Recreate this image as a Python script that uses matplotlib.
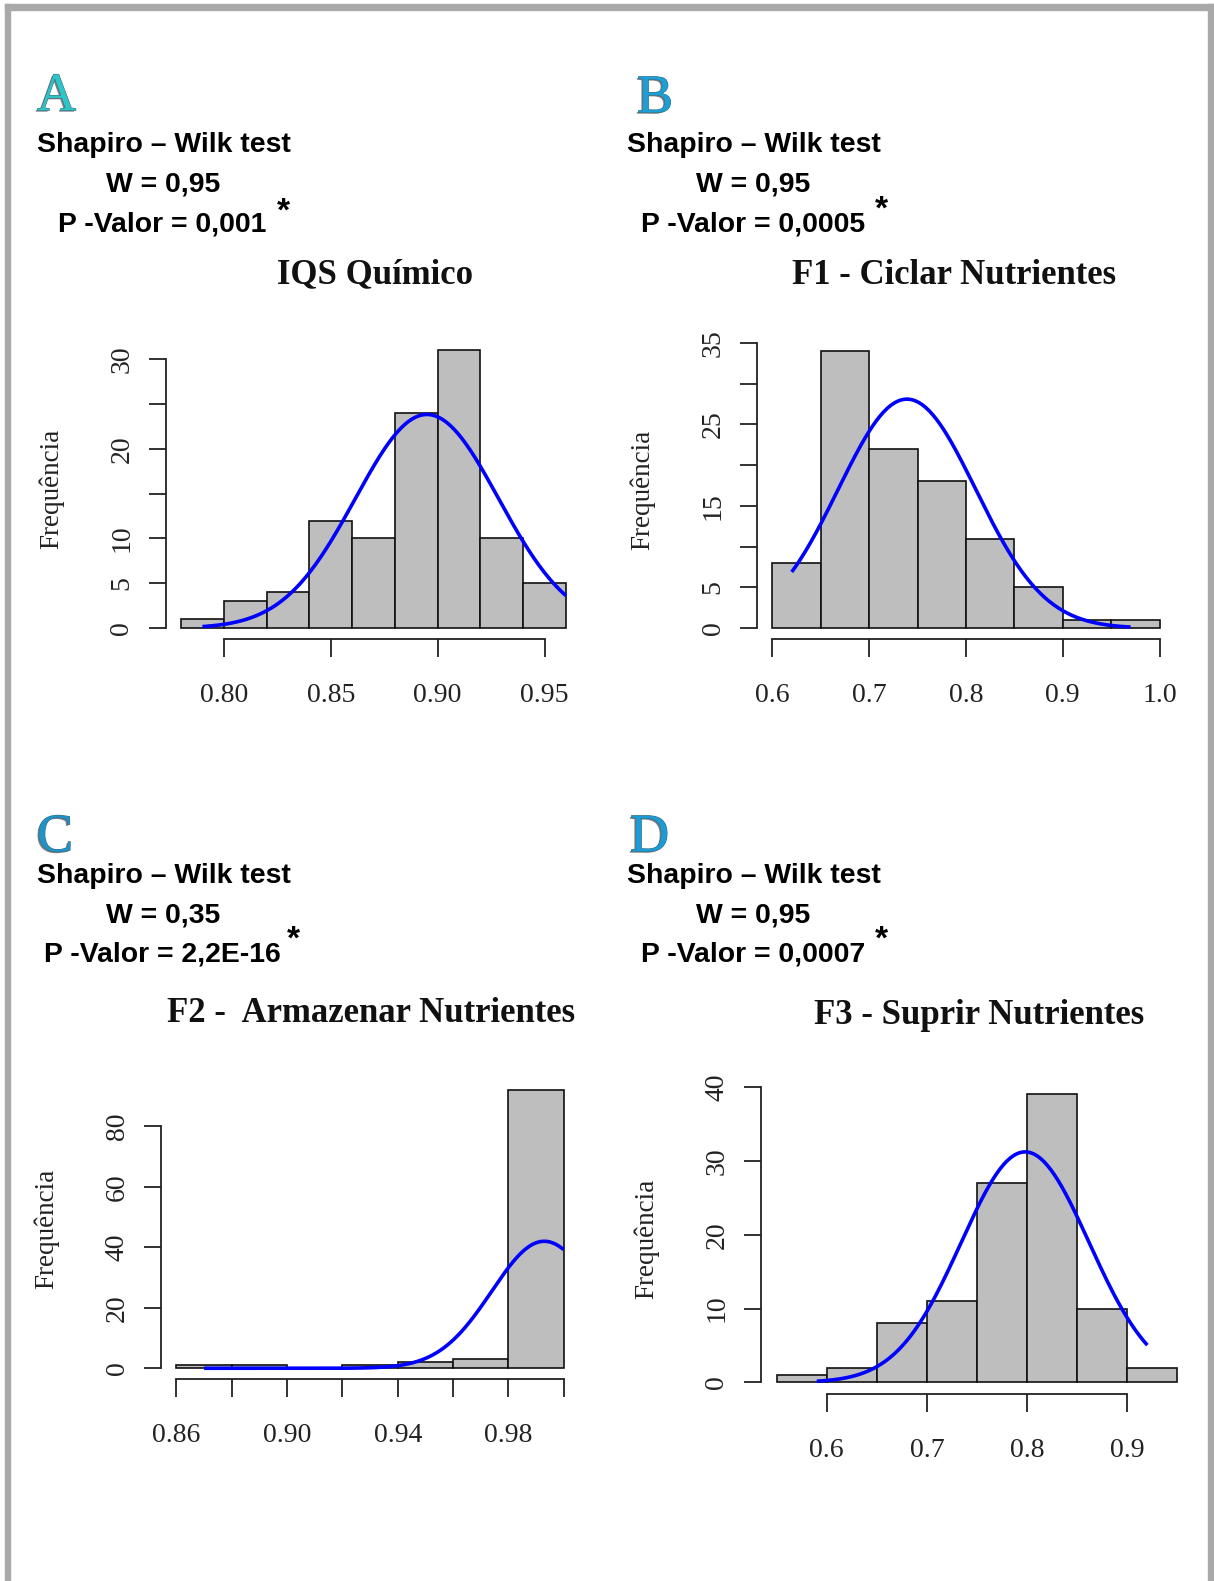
import numpy as np
import matplotlib
matplotlib.use("Agg")
import matplotlib.pyplot as plt
import matplotlib.patheffects as pe
from matplotlib.patches import Rectangle

W, H = 1214, 1581

# ---------------- data ----------------
# Panel A - IQS Químico
a_edges = [0.78, 0.80, 0.82, 0.84, 0.86, 0.88, 0.90, 0.92, 0.94, 0.96]
a_counts = [1, 3, 4, 12, 10, 24, 31, 10, 5]
a_fit = dict(mean=0.895, sd=0.0335, xmin=0.79, xmax=0.96)
a_xticks = [0.80, 0.85, 0.90, 0.95]
a_xlabels = ["0.80", "0.85", "0.90", "0.95"]
a_yticks = [0, 5, 10, 15, 20, 25, 30]
a_ylabels = ["0", "5", "10", "", "20", "", "30"]

# Panel B - F1 Ciclar Nutrientes
b_edges = [0.60, 0.65, 0.70, 0.75, 0.80, 0.85, 0.90, 0.95, 1.00]
b_counts = [8, 34, 22, 18, 11, 5, 1, 1]
b_fit = dict(mean=0.739, sd=0.0710, xmin=0.62, xmax=0.97)
b_xticks = [0.6, 0.7, 0.8, 0.9, 1.0]
b_xlabels = ["0.6", "0.7", "0.8", "0.9", "1.0"]
b_yticks = [0, 5, 10, 15, 20, 25, 30, 35]
b_ylabels = ["0", "5", "", "15", "", "25", "", "35"]

# Panel C - F2 Armazenar Nutrientes
c_edges = [0.86, 0.88, 0.90, 0.92, 0.94, 0.96, 0.98, 1.00]
c_counts = [1, 1, 0, 1, 2, 3, 92]
c_fit = dict(mean=0.993, sd=0.0190, xmin=0.87, xmax=1.00)
c_xticks = [0.86, 0.88, 0.90, 0.92, 0.94, 0.96, 0.98, 1.00]
c_xlabels = ["0.86", "", "0.90", "", "0.94", "", "0.98", ""]
c_yticks = [0, 20, 40, 60, 80]
c_ylabels = ["0", "20", "40", "60", "80"]

# Panel D - F3 Suprir Nutrientes
d_edges = [0.55, 0.60, 0.65, 0.70, 0.75, 0.80, 0.85, 0.90, 0.95]
d_counts = [1, 2, 8, 11, 27, 39, 10, 2]
d_fit = dict(mean=0.798, sd=0.0639, xmin=0.59, xmax=0.92)
d_xticks = [0.6, 0.7, 0.8, 0.9]
d_xlabels = ["0.6", "0.7", "0.8", "0.9"]
d_yticks = [0, 10, 20, 30, 40]
d_ylabels = ["0", "10", "20", "30", "40"]

titles = ["IQS Químico", "F1 - Ciclar Nutrientes",
          "F2 -  Armazenar Nutrientes", "F3 - Suprir Nutrientes"]
letters = ["A", "B", "C", "D"]
w_values = ["W = 0,95", "W = 0,95", "W = 0,35", "W = 0,95"]
p_values = ["P -Valor = 0,001", "P -Valor = 0,0005",
            "P -Valor = 2,2E-16", "P -Valor = 0,0007"]
ylabel = "Frequência"
test_name = "Shapiro – Wilk test"

# ---------------- layout (pixels) ----------------
# plot-region boxes: left, top, right, bottom
boxes = [(165.7, 338.9, 581.3, 639.3),
         (756.9, 339.9, 1175.1, 639.3),
         (161.0, 1078.9, 579.1, 1379.4),
         (760.7, 1082.9, 1193.4, 1393.9)]
# text anchors
letter_pos = [(37, 97), (637, 99), (37, 838), (630, 838)]
letter_col = ["#2fc4c8", "#1c9fd6", "#1f93c8", "#1d9bd6"]
shap_pos = [(37, 145), (627, 145), (37, 876), (627, 876)]
w_pos = [(106, 184.5), (696, 184.5), (106, 915.5), (696, 915.5)]
p_pos = [(58.5, 224), (641, 224), (44.4, 955), (641, 955)]
star_pos = [(283, 212), (881, 210), (293, 940), (881, 940)]
title_pos = [(374.6, 275), (954, 275), (371, 1014), (979.6, 1016)]

fig = plt.figure(figsize=(W / 100, H / 100), dpi=100)
fig.patch.set_facecolor("white")

def fx(x):
    return x / W

def fy(y):
    return 1 - y / H

# gray frame
for (x0, y0, x1, y1) in [(5, 4, 10, H), (5, 4, W, 10), (1208, 4, W, H)]:
    fig.patches.append(Rectangle((fx(x0), fy(y1)), (x1 - x0) / W, (y1 - y0) / H,
                                 transform=fig.transFigure, color="#a9a9a9",
                                 zorder=0))

serif = "Liberation Serif"
sans = "Liberation Sans"

panels = [
    (a_edges, a_counts, a_fit, a_xticks, a_xlabels, a_yticks, a_ylabels),
    (b_edges, b_counts, b_fit, b_xticks, b_xlabels, b_yticks, b_ylabels),
    (c_edges, c_counts, c_fit, c_xticks, c_xlabels, c_yticks, c_ylabels),
    (d_edges, d_counts, d_fit, d_xticks, d_xlabels, d_yticks, d_ylabels),
]

for i, (edges, counts, fit, xt, xl, yt, yl) in enumerate(panels):
    l, t, r, b = boxes[i]
    ax = fig.add_axes([fx(l), fy(b), (r - l) / W, (b - t) / H])
    edges = np.asarray(edges)
    counts = np.asarray(counts)
    bw = edges[1] - edges[0]
    ax.bar(edges[:-1], counts, width=np.diff(edges), align="edge",
           color="#bebebe", edgecolor="#111111", linewidth=1.2, zorder=2)
    # fitted normal curve (count scale)
    n = counts.sum()
    xs = np.linspace(fit["xmin"], fit["xmax"], 300)
    ys = n * bw * np.exp(-0.5 * ((xs - fit["mean"]) / fit["sd"]) ** 2) / (fit["sd"] * np.sqrt(2 * np.pi))
    ax.plot(xs, ys, color="#0000ff", lw=2.6, zorder=3, solid_capstyle="butt")
    # R-style limits (4% extension)
    xr = edges[-1] - edges[0]
    ax.set_xlim(edges[0] - 0.04 * xr, edges[-1] + 0.04 * xr)
    ymax = counts.max()
    ax.set_ylim(-0.04 * ymax, ymax * 1.04)
    ax.patch.set_alpha(0)
    for s in ["top", "right"]:
        ax.spines[s].set_visible(False)
    ax.spines["left"].set_bounds(yt[0], yt[-1])
    ax.spines["bottom"].set_bounds(xt[0], xt[-1])
    for s in ["left", "bottom"]:
        ax.spines[s].set_linewidth(1.3)
        ax.spines[s].set_color("#222222")
    ax.set_xticks(xt)
    ax.set_xticklabels(xl, fontfamily=serif, fontsize=20, color="#222222")
    ax.set_yticks(yt)
    ax.set_yticklabels(yl, fontfamily=serif, fontsize=20, rotation=90,
                       va="center", color="#222222")
    ax.tick_params(axis="both", direction="out", length=12.6, width=1.3,
                   color="#222222")
    ax.tick_params(axis="y", pad=10)
    ax.tick_params(axis="x", pad=19)
    # y label
    fig.text(fx(l - 114), fy((t + b) / 2), ylabel, rotation=90, ha="center",
             va="center", fontfamily=serif, fontsize=19.5, color="#222222")
    # title
    fig.text(fx(title_pos[i][0]), fy(title_pos[i][1]), titles[i], ha="center",
             va="center", fontfamily=serif, fontweight="bold", fontsize=25,
             color="#111111")
    # panel letter
    fig.text(fx(letter_pos[i][0]), fy(letter_pos[i][1]), letters[i], ha="left",
             va="center", fontfamily=serif, fontsize=39, color=letter_col[i],
             path_effects=[pe.withSimplePatchShadow(offset=(-1.2, -1), shadow_rgbFace="#444444", alpha=0.7),
                           pe.withStroke(linewidth=0.8, foreground="#3a6f80")])
    # stats text
    fig.text(fx(shap_pos[i][0]), fy(shap_pos[i][1]), test_name, ha="left",
             va="center", fontfamily=sans, fontweight="bold", fontsize=20.4)
    fig.text(fx(w_pos[i][0]), fy(w_pos[i][1]), w_values[i], ha="left",
             va="center", fontfamily=sans, fontweight="bold", fontsize=20.4)
    fig.text(fx(p_pos[i][0]), fy(p_pos[i][1]), p_values[i], ha="left",
             va="center", fontfamily=sans, fontweight="bold", fontsize=20.4)
    fig.text(fx(star_pos[i][0]), fy(star_pos[i][1]), "*", ha="center",
             va="center", fontfamily=sans, fontweight="bold", fontsize=24)

fig.savefig("out.png", dpi=100)
